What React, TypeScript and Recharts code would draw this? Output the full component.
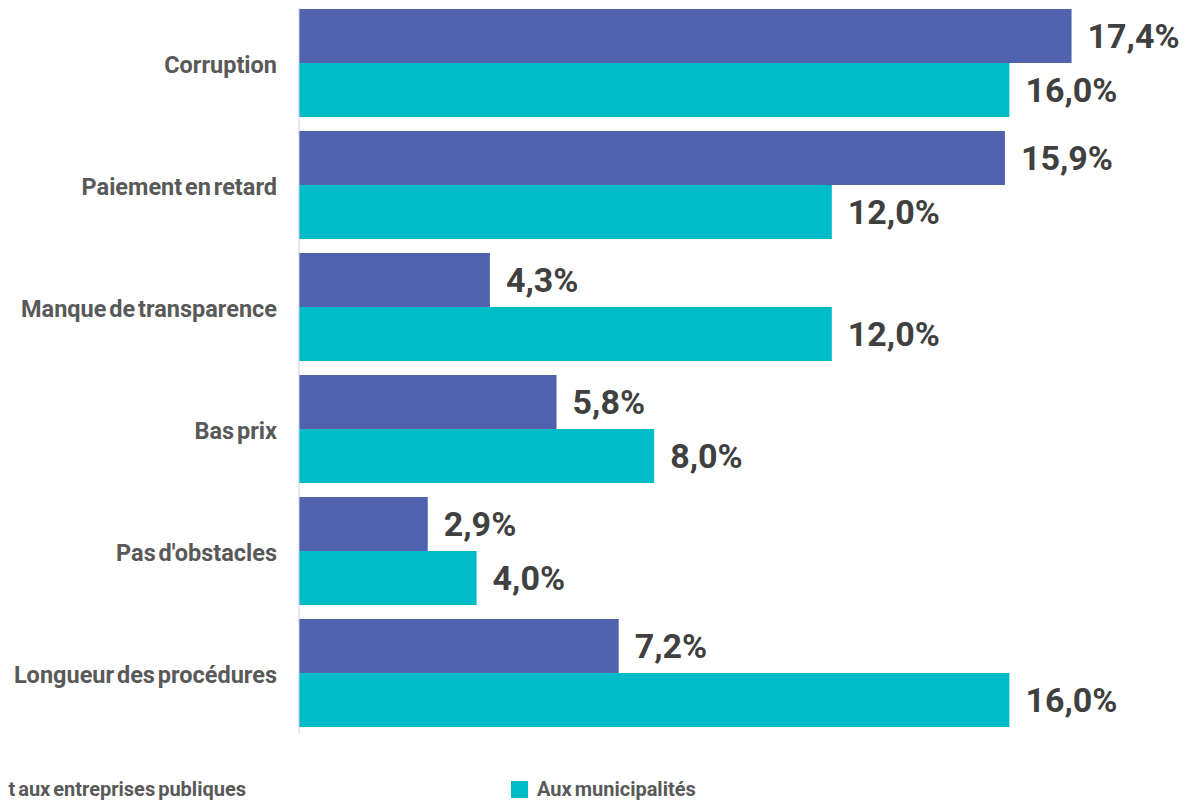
import { BarChart, Bar, XAxis, YAxis, LabelList } from 'recharts';

const categories = [
  'Corruption',
  'Paiement en retard',
  'Manque de transparence',
  'Bas prix',
  "Pas d'obstacles",
  'Longueur des procédures',
];
const entreprisesPubliques = [17.4, 15.9, 4.3, 5.8, 2.9, 7.2];
const municipalites = [16.0, 12.0, 12.0, 8.0, 4.0, 16.0];

const seriesNames = ['Directement aux entreprises publiques', 'Aux municipalités'];
const colors = ['#5062ad', '#00bcc8'];

const data = categories.map((name, i) => ({
  name,
  pub: entreprisesPubliques[i],
  mun: municipalites[i],
}));

const fmt = (v: any) => `${Number(v).toFixed(1).replace('.', ',')}%`;
const font = 'Roboto, "Noto Sans", sans-serif';

const valueStyle = { fill: '#404040', fontSize: 34, fontWeight: 700, fontFamily: font };

export default function App() {
  return (
    <div style={{ position: 'relative', width: 1191, height: 803, margin: '-8px 0 0 -8px', fontFamily: font }}>
      <BarChart
        width={1191}
        height={740}
        data={data}
        layout="vertical"
        margin={{ top: 1.5, right: 4, left: 0, bottom: 6.5 }}
        barGap={0}
        barCategoryGap={7.5}
      >
        <XAxis type="number" domain={[0, 20]} hide />
        <YAxis
          type="category"
          dataKey="name"
          width={299}
          axisLine={{ stroke: '#c9cde2' }}
          tickLine={false}
          tickMargin={16}
          tick={{ fill: '#595959', fontSize: 23.5, fontWeight: 700, fontFamily: font, wordSpacing: -3, dy: 2 }}
        />
        <Bar dataKey="pub" fill={colors[0]} isAnimationActive={false}>
          <LabelList dataKey="pub" position="right" offset={16} formatter={fmt} style={valueStyle} />
        </Bar>
        <Bar dataKey="mun" fill={colors[1]} isAnimationActive={false}>
          <LabelList dataKey="mun" position="right" offset={16} formatter={fmt} style={valueStyle} />
        </Bar>
      </BarChart>
      <div style={{ position: 'absolute', right: 1191 - 246, top: 777, display: 'flex', alignItems: 'center', whiteSpace: 'nowrap' }}>
        <span style={{ width: 17, height: 17, background: colors[0], marginRight: 10 }} />
        <span style={{ fontSize: 20, fontWeight: 700, color: '#595959', wordSpacing: -2 }}>{seriesNames[0]}</span>
      </div>
      <div style={{ position: 'absolute', left: 511, top: 777, display: 'flex', alignItems: 'center', whiteSpace: 'nowrap' }}>
        <span style={{ width: 17, height: 17, background: colors[1], marginRight: 9 }} />
        <span style={{ fontSize: 20, fontWeight: 700, color: '#595959', wordSpacing: -2 }}>{seriesNames[1]}</span>
      </div>
    </div>
  );
}
